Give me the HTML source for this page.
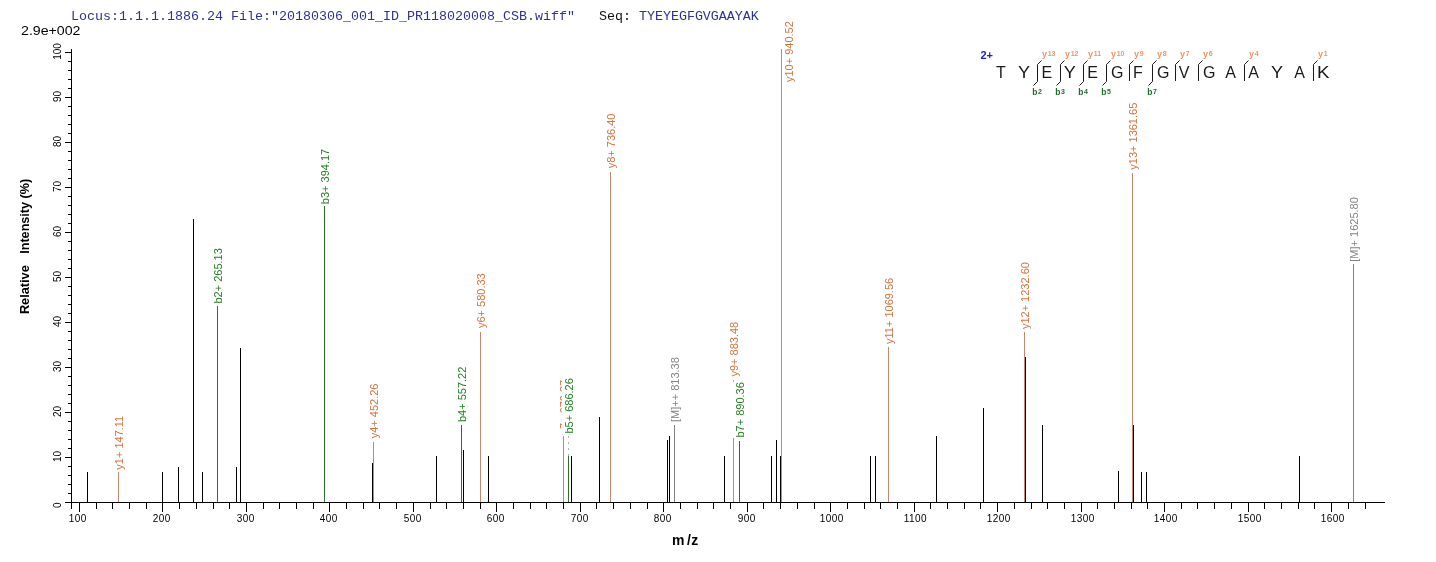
<!DOCTYPE html><html><head><meta charset="utf-8"><title>Spectrum</title><style>
html,body{margin:0;padding:0;background:#fff;width:1436px;height:562px;overflow:hidden}
svg{display:block;will-change:transform}
text{font-family:"Liberation Sans",sans-serif}
.mono{font-family:"Liberation Mono",monospace}
</style></head><body>
<svg width="1436" height="562" viewBox="0 0 1436 562">
<rect width="1436" height="562" fill="#fff"/>
<text class="mono" x="71" y="19.5" font-size="13.33" fill="#303096" xml:space="preserve">Locus:1.1.1.1886.24 File:"20180306_001_ID_PR118020008_CSB.wiff"   <tspan fill="#111">Seq:</tspan> TYEYEGFGVGAAYAK</text>
<text x="21" y="35" font-size="13" fill="#000" textLength="59.5" lengthAdjust="spacingAndGlyphs">2.9e+002</text>
<g shape-rendering="crispEdges" stroke="#000" stroke-width="1" fill="none">
<path d="M71.5 49V509M65 502.5H1385"/>
<path d="M68 493.5H71M68 484.5H71M68 475.5H71M68 466.5H71M65 457.5H71M68 448.5H71M68 439.5H71M68 430.5H71M68 421.5H71M65 412.5H71M68 403.5H71M68 394.5H71M68 385.5H71M68 376.5H71M65 367.5H71M68 358.5H71M68 349.5H71M68 340.5H71M68 331.5H71M65 322.5H71M68 313.5H71M68 304.5H71M68 295.5H71M68 286.5H71M65 277.5H71M68 268.5H71M68 259.5H71M68 250.5H71M68 241.5H71M65 232.5H71M68 223.5H71M68 214.5H71M68 205.5H71M68 196.5H71M65 187.5H71M68 178.5H71M68 169.5H71M68 160.5H71M68 151.5H71M65 142.5H71M68 133.5H71M68 124.5H71M68 115.5H71M68 106.5H71M65 97.5H71M68 88.5H71M68 79.5H71M68 70.5H71M68 61.5H71M65 52.5H71"/>
<path d="M79.5 503V512M96.5 503V509M112.5 503V509M129.5 503V509M146.5 503V509M162.5 503V512M179.5 503V509M196.5 503V509M213.5 503V509M229.5 503V509M246.5 503V512M263.5 503V509M279.5 503V509M296.5 503V509M313.5 503V509M329.5 503V512M346.5 503V509M363.5 503V509M379.5 503V509M396.5 503V509M413.5 503V512M430.5 503V509M446.5 503V509M463.5 503V509M480.5 503V509M496.5 503V512M513.5 503V509M530.5 503V509M546.5 503V509M563.5 503V509M580.5 503V512M596.5 503V509M613.5 503V509M630.5 503V509M647.5 503V509M663.5 503V512M680.5 503V509M697.5 503V509M713.5 503V509M730.5 503V509M747.5 503V512M763.5 503V509M780.5 503V509M797.5 503V509M814.5 503V509M830.5 503V512M847.5 503V509M864.5 503V509M880.5 503V509M897.5 503V509M914.5 503V512M930.5 503V509M947.5 503V509M964.5 503V509M980.5 503V509M997.5 503V512M1014.5 503V509M1031.5 503V509M1047.5 503V509M1064.5 503V509M1081.5 503V512M1097.5 503V509M1114.5 503V509M1131.5 503V509M1147.5 503V509M1164.5 503V512M1181.5 503V509M1197.5 503V509M1214.5 503V509M1231.5 503V509M1248.5 503V512M1264.5 503V509M1281.5 503V509M1298.5 503V509M1314.5 503V509M1331.5 503V512M1348.5 503V509M1365.5 503V509"/>
</g>
<text transform="translate(60.8,505.3) rotate(-90)" font-size="10" text-anchor="middle" fill="#000">0</text>
<text transform="translate(60.8,456.5) rotate(-90)" font-size="10" text-anchor="middle" fill="#000">10</text>
<text transform="translate(60.8,411.5) rotate(-90)" font-size="10" text-anchor="middle" fill="#000">20</text>
<text transform="translate(60.8,366.5) rotate(-90)" font-size="10" text-anchor="middle" fill="#000">30</text>
<text transform="translate(60.8,321.5) rotate(-90)" font-size="10" text-anchor="middle" fill="#000">40</text>
<text transform="translate(60.8,276.5) rotate(-90)" font-size="10" text-anchor="middle" fill="#000">50</text>
<text transform="translate(60.8,231.5) rotate(-90)" font-size="10" text-anchor="middle" fill="#000">60</text>
<text transform="translate(60.8,186.5) rotate(-90)" font-size="10" text-anchor="middle" fill="#000">70</text>
<text transform="translate(60.8,141.5) rotate(-90)" font-size="10" text-anchor="middle" fill="#000">80</text>
<text transform="translate(60.8,96.5) rotate(-90)" font-size="10" text-anchor="middle" fill="#000">90</text>
<text transform="translate(60.8,51.5) rotate(-90)" font-size="10" text-anchor="middle" fill="#000">100</text>
<text x="68.70" y="522" font-size="10" letter-spacing="0.44" fill="#000">100</text>
<text x="152.70" y="522" font-size="10" letter-spacing="0.44" fill="#000">200</text>
<text x="236.70" y="522" font-size="10" letter-spacing="0.44" fill="#000">300</text>
<text x="319.70" y="522" font-size="10" letter-spacing="0.44" fill="#000">400</text>
<text x="403.70" y="522" font-size="10" letter-spacing="0.44" fill="#000">500</text>
<text x="486.70" y="522" font-size="10" letter-spacing="0.44" fill="#000">600</text>
<text x="570.70" y="522" font-size="10" letter-spacing="0.44" fill="#000">700</text>
<text x="653.70" y="522" font-size="10" letter-spacing="0.44" fill="#000">800</text>
<text x="737.70" y="522" font-size="10" letter-spacing="0.44" fill="#000">900</text>
<text x="819.70" y="522" font-size="10" letter-spacing="0.44" fill="#000">1000</text>
<text x="903.70" y="522" font-size="10" letter-spacing="0.44" fill="#000">1100</text>
<text x="986.70" y="522" font-size="10" letter-spacing="0.44" fill="#000">1200</text>
<text x="1070.70" y="522" font-size="10" letter-spacing="0.44" fill="#000">1300</text>
<text x="1153.70" y="522" font-size="10" letter-spacing="0.44" fill="#000">1400</text>
<text x="1237.70" y="522" font-size="10" letter-spacing="0.44" fill="#000">1500</text>
<text x="1320.70" y="522" font-size="10" letter-spacing="0.44" fill="#000">1600</text>
<text x="672" y="545" font-size="14" font-weight="bold" fill="#000">m<tspan dx="2.6">/</tspan><tspan dx="0.4">z</tspan></text>
<text transform="translate(29,314.1) rotate(-90) scale(0.98,1)" font-size="13" font-weight="bold" fill="#000">Relative</text>
<text transform="translate(29,253.8) rotate(-90) scale(0.972,1)" font-size="13" font-weight="bold" fill="#000">Intensity (%)</text>
<g shape-rendering="crispEdges" stroke-width="1">
<path d="M87.5 472V502" stroke="#000"/>
<path d="M162.5 472V502" stroke="#000"/>
<path d="M178.5 467V502" stroke="#000"/>
<path d="M193.5 219V502" stroke="#000"/>
<path d="M202.5 472V502" stroke="#000"/>
<path d="M236.5 467V502" stroke="#000"/>
<path d="M240.5 348V502" stroke="#000"/>
<path d="M372.5 463V502" stroke="#000"/>
<path d="M436.5 456V502" stroke="#000"/>
<path d="M463.5 450V502" stroke="#000"/>
<path d="M488.5 456V502" stroke="#000"/>
<path d="M571.5 456V502" stroke="#000"/>
<path d="M599.5 417V502" stroke="#000"/>
<path d="M667.5 440V502" stroke="#000"/>
<path d="M669.5 436V502" stroke="#000"/>
<path d="M724.5 456V502" stroke="#000"/>
<path d="M771.5 456V502" stroke="#000"/>
<path d="M776.5 440V502" stroke="#000"/>
<path d="M780.5 456V502" stroke="#000"/>
<path d="M870.5 456V502" stroke="#000"/>
<path d="M875.5 456V502" stroke="#000"/>
<path d="M936.5 436V502" stroke="#000"/>
<path d="M983.5 408V502" stroke="#000"/>
<path d="M1025.5 357V502" stroke="#000"/>
<path d="M1042.5 425V502" stroke="#000"/>
<path d="M1118.5 471V502" stroke="#000"/>
<path d="M1133.5 425V502" stroke="#000"/>
<path d="M1141.5 472V502" stroke="#000"/>
<path d="M1146.5 472V502" stroke="#000"/>
<path d="M1299.5 456V502" stroke="#000"/>
<path d="M118.5 472V502" stroke="#c8876a"/>
<path d="M217.5 306V502" stroke="#2f6e2f"/>
<path d="M324.5 206V502" stroke="#2f6e2f"/>
<path d="M373.5 442V502" stroke="#c8876a"/>
<path d="M461.5 425V502" stroke="#2f6e2f"/>
<path d="M480.5 332V502" stroke="#c8876a"/>
<path d="M563.5 436V502" stroke="#c8876a"/>
<path d="M568.5 456V502" stroke="#2f6e2f"/>
<path d="M610.5 172V502" stroke="#c8876a"/>
<path d="M674.5 425V502" stroke="#808080"/>
<path d="M733.5 438V502" stroke="#c8876a"/>
<path d="M739.5 441V502" stroke="#2f6e2f"/>
<path d="M781.5 49V502" stroke="#c8876a"/>
<path d="M888.5 347V502" stroke="#c8876a"/>
<path d="M1024.5 332V502" stroke="#c8876a"/>
<path d="M1132.5 173V502" stroke="#c8876a"/>
<path d="M1353.5 264V502" stroke="#808080"/>
</g>
<text transform="translate(123.20,469.70) rotate(-90)" font-size="11" fill="#d4743f">y1+ 147.11</text>
<text transform="translate(222.20,303.50) rotate(-90)" font-size="11" fill="#248024">b2+ 265.13</text>
<text transform="translate(329.20,204.15) rotate(-90)" font-size="11" fill="#248024">b3+ 394.17</text>
<text transform="translate(378.20,438.25) rotate(-90)" font-size="11" fill="#d4743f">y4+ 452.26</text>
<text transform="translate(466.20,422.05) rotate(-90)" font-size="11" fill="#248024">b4+ 557.22</text>
<text transform="translate(485.20,328.05) rotate(-90)" font-size="11" fill="#d4743f">y6+ 580.33</text>
<text transform="translate(615.20,168.25) rotate(-90)" font-size="11" fill="#d4743f">y8+ 736.40</text>
<text transform="translate(679.20,422.00) rotate(-90)" font-size="11" fill="#838383">[M]++ 813.38</text>
<text transform="translate(893.20,344.00) rotate(-90)" font-size="11" fill="#d4743f">y11+ 1069.56</text>
<text transform="translate(1029.20,329.10) rotate(-90)" font-size="11" fill="#d4743f">y12+ 1232.60</text>
<text transform="translate(1137.20,169.70) rotate(-90)" font-size="11" fill="#d4743f">y13+ 1361.65</text>
<text transform="translate(1358.20,261.70) rotate(-90)" font-size="11" fill="#838383">[M]+ 1625.80</text>
<text transform="translate(567.90,434.50) rotate(-90)" font-size="11" fill="#d4743f">y7+ 679.37</text>
<path d="M568.5 436V456" stroke="#b4b4b4" stroke-dasharray="2,4" shape-rendering="crispEdges"/>
<rect x="562" y="376" width="14" height="58" fill="#fff"/>
<text transform="translate(573.20,433.50) rotate(-90)" font-size="11" fill="#248024">b5+ 686.26</text>
<text transform="translate(738.20,376.50) rotate(-90)" font-size="11" fill="#d4743f">y9+ 883.48</text>
<path d="M733.5 380V438" stroke="#b4b4b4" stroke-dasharray="2,4" shape-rendering="crispEdges"/>
<rect x="733" y="383" width="13" height="55" fill="#fff"/>
<text transform="translate(744.20,437.50) rotate(-90)" font-size="11" fill="#248024">b7+ 890.36</text>
<text transform="translate(792.5,82) rotate(-90)" font-size="11" fill="#d4743f">y10+ 940.52</text>
<text x="980.5" y="59" font-size="11" font-weight="bold" fill="#2020d0">2+</text>
<text transform="translate(1000.90,78) scale(1.0,1)" font-size="16" text-anchor="middle" fill="#1a1a1a">T</text>
<text transform="translate(1023.95,78) scale(1.13,1)" font-size="16" text-anchor="middle" fill="#1a1a1a">Y</text>
<text transform="translate(1046.89,78) scale(1.0,1)" font-size="16" text-anchor="middle" fill="#1a1a1a">E</text>
<text transform="translate(1069.85,78) scale(1.13,1)" font-size="16" text-anchor="middle" fill="#1a1a1a">Y</text>
<text transform="translate(1092.69,78) scale(1.0,1)" font-size="16" text-anchor="middle" fill="#1a1a1a">E</text>
<text transform="translate(1117.25,78) scale(1.0,1)" font-size="16" text-anchor="middle" fill="#1a1a1a">G</text>
<text transform="translate(1137.91,78) scale(1.0,1)" font-size="16" text-anchor="middle" fill="#1a1a1a">F</text>
<text transform="translate(1163.20,78) scale(1.0,1)" font-size="16" text-anchor="middle" fill="#1a1a1a">G</text>
<text transform="translate(1184.20,78) scale(1.0,1)" font-size="16" text-anchor="middle" fill="#1a1a1a">V</text>
<text transform="translate(1209.20,78) scale(1.0,1)" font-size="16" text-anchor="middle" fill="#1a1a1a">G</text>
<text transform="translate(1230.50,78) scale(1.0,1)" font-size="16" text-anchor="middle" fill="#1a1a1a">A</text>
<text transform="translate(1253.50,78) scale(1.0,1)" font-size="16" text-anchor="middle" fill="#1a1a1a">A</text>
<text transform="translate(1277.10,78) scale(1.13,1)" font-size="16" text-anchor="middle" fill="#1a1a1a">Y</text>
<text transform="translate(1299.60,78) scale(1.0,1)" font-size="16" text-anchor="middle" fill="#1a1a1a">A</text>
<text transform="translate(1323.18,78) scale(1.17,1)" font-size="16" text-anchor="middle" fill="#1a1a1a">K</text>
<text x="1041.9" y="56.5" font-size="9" font-weight="bold" fill="#ec9468">y<tspan font-size="7" dx="0.8" dy="-0.5">13</tspan></text>
<text x="1032.3" y="94.8" font-size="8.5" font-weight="bold" fill="#1c7028">b<tspan font-size="7" dy="-0.7" dx="0.5">2</tspan></text>
<text x="1064.9" y="56.5" font-size="9" font-weight="bold" fill="#ec9468">y<tspan font-size="7" dx="0.8" dy="-0.5">12</tspan></text>
<text x="1055.3" y="94.8" font-size="8.5" font-weight="bold" fill="#1c7028">b<tspan font-size="7" dy="-0.7" dx="0.5">3</tspan></text>
<text x="1087.9" y="56.5" font-size="9" font-weight="bold" fill="#ec9468">y<tspan font-size="7" dx="0.8" dy="-0.5">11</tspan></text>
<text x="1078.3" y="94.8" font-size="8.5" font-weight="bold" fill="#1c7028">b<tspan font-size="7" dy="-0.7" dx="0.5">4</tspan></text>
<text x="1110.9" y="56.5" font-size="9" font-weight="bold" fill="#ec9468">y<tspan font-size="7" dx="0.8" dy="-0.5">10</tspan></text>
<text x="1101.3" y="94.8" font-size="8.5" font-weight="bold" fill="#1c7028">b<tspan font-size="7" dy="-0.7" dx="0.5">5</tspan></text>
<text x="1133.9" y="56.5" font-size="9" font-weight="bold" fill="#ec9468">y<tspan font-size="7" dx="0.8" dy="-0.5">9</tspan></text>
<text x="1156.9" y="56.5" font-size="9" font-weight="bold" fill="#ec9468">y<tspan font-size="7" dx="0.8" dy="-0.5">8</tspan></text>
<text x="1147.3" y="94.8" font-size="8.5" font-weight="bold" fill="#1c7028">b<tspan font-size="7" dy="-0.7" dx="0.5">7</tspan></text>
<text x="1179.9" y="56.5" font-size="9" font-weight="bold" fill="#ec9468">y<tspan font-size="7" dx="0.8" dy="-0.5">7</tspan></text>
<text x="1202.9" y="56.5" font-size="9" font-weight="bold" fill="#ec9468">y<tspan font-size="7" dx="0.8" dy="-0.5">6</tspan></text>
<text x="1248.9" y="56.5" font-size="9" font-weight="bold" fill="#ec9468">y<tspan font-size="7" dx="0.8" dy="-0.5">4</tspan></text>
<text x="1317.9" y="56.5" font-size="9" font-weight="bold" fill="#ec9468">y<tspan font-size="7" dx="0.8" dy="-0.5">1</tspan></text>
<path d="M1041.5 60.5L1037.5 64.5V81.5L1033.5 85.5M1064.5 60.5L1060.5 64.5V81.5L1056.5 85.5M1087.5 60.5L1083.5 64.5V81.5L1079.5 85.5M1110.5 60.5L1106.5 64.5V81.5L1102.5 85.5M1133.5 60.5L1129.5 64.5V81M1156.5 60.5L1152.5 64.5V81.5L1148.5 85.5M1179.5 60.5L1175.5 64.5V81M1202.5 60.5L1198.5 64.5V81M1248.5 60.5L1244.5 64.5V81M1317.5 60.5L1313.5 64.5V81" stroke="#1a1a1a" stroke-width="1" fill="none"/>
</svg></body></html>
